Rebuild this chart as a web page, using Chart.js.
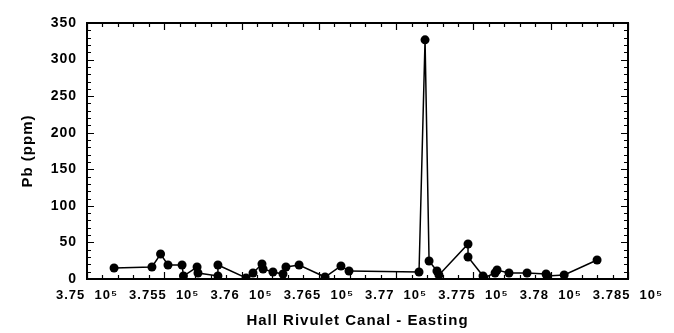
<!DOCTYPE html>
<html>
<head>
<meta charset="utf-8">
<script src="https://cdn.jsdelivr.net/npm/chart.js@4/dist/chart.umd.min.js"></script>
<style>
  html, body { margin: 0; padding: 0; background: #fff; }
  #wrap { width: 674px; height: 333px; }
</style>
</head>
<body>
<div id="wrap"><canvas id="c" width="674" height="333"></canvas></div>
<script>
// Sampling stations along the Hall Rivulet canal, in survey order
const easting = [
  375175, 375420, 375476, 375524, 375615, 375624, 375712, 375718,
  375847, 375847, 376029, 376074, 376132, 376139, 376203, 376268,
  376287, 376372, 376540, 376643, 376695, 377148, 377187, 377213,
  377264, 377277, 377465, 377465, 377562, 377568, 377640, 377653,
  377730, 377847, 377970, 377976, 378087, 378300
];
const leadPpm = [
  15.0, 16.4, 34.2, 19.1, 19.1, 4.1, 16.4, 8.2,
  4.1, 19.1, 1.4, 8.2, 20.5, 13.7, 9.6, 6.8,
  16.4, 19.1, 2.7, 17.8, 10.9, 9.6, 327, 24.6,
  10.9, 5.5, 47.9, 30.1, 4.1, 1.4, 8.2, 12.3,
  8.2, 8.2, 6.8, 4.1, 5.5, 26.0
];
const xTickValues = [375000, 375500, 376000, 376500, 377000, 377500, 378000, 378500];
const yTickValues = [0, 50, 100, 150, 200, 250, 300, 350];

Chart.defaults.font.family = "'Liberation Sans', Arial, Helvetica, sans-serif";
Chart.defaults.color = '#000';

// Slightly open lettering for all axis text
const letterSpacing = {
  id: 'letterSpacing',
  beforeDraw(chart) { chart.ctx.letterSpacing = '1px'; }
};

// Box frame with inward major/minor ticks on all four sides
const frameTicks = {
  id: 'frameTicks',
  beforeDatasetsDraw(chart) {
    const { ctx, chartArea: a, scales: { x, y } } = chart;
    ctx.save();
    ctx.strokeStyle = '#000';
    ctx.lineWidth = 1.2;
    for (let v = x.min; v <= x.max + 1e-6; v += 100) {
      const px = Math.round(x.getPixelForValue(v)) + 0.5;
      const len = (Math.round(v) % 500 === 0) ? 7 : 4;
      ctx.beginPath();
      ctx.moveTo(px, a.bottom); ctx.lineTo(px, a.bottom - len);
      ctx.moveTo(px, a.top); ctx.lineTo(px, a.top + len);
      ctx.stroke();
    }
    for (let v = y.min; v <= y.max + 1e-6; v += 10) {
      const py = Math.round(y.getPixelForValue(v)) + 0.5;
      const len = (Math.round(v) % 50 === 0) ? 7 : 4;
      ctx.beginPath();
      ctx.moveTo(a.left, py); ctx.lineTo(a.left + len, py);
      ctx.moveTo(a.right, py); ctx.lineTo(a.right - len, py);
      ctx.stroke();
    }
    ctx.lineWidth = 2;
    ctx.strokeRect(a.left, a.top, a.right - a.left, a.bottom - a.top);
    ctx.restore();
  }
};

new Chart(document.getElementById('c'), {
  type: 'scatter',
  data: {
    datasets: [{
      data: easting.map((e, i) => ({ x: e, y: leadPpm[i] })),
      showLine: true,
      borderColor: '#000',
      borderWidth: 1.5,
      pointRadius: 4.5,
      pointBackgroundColor: '#000',
      pointBorderColor: '#000',
      pointBorderWidth: 0
    }]
  },
  options: {
    responsive: false,
    animation: false,
    devicePixelRatio: 1,
    layout: { padding: { top: 23, right: 46, left: 0, bottom: 0 } },
    plugins: { legend: { display: false }, tooltip: { enabled: false } },
    scales: {
      x: {
        type: 'linear',
        min: 375000,
        max: 378500,
        afterBuildTicks: s => { s.ticks = xTickValues.map(v => ({ value: v })); },
        afterFit: s => { s.height = 54; },
        grid: { display: false, drawTicks: false },
        border: { display: false },
        ticks: {
          autoSkip: false,
          maxRotation: 0,
          padding: 9,
          font: { size: 13, weight: 'bold' },
          callback: v => (v / 1e5).toString() + '  10\u2075'
        },
        title: {
          display: true,
          text: 'Hall Rivulet Canal - Easting',
          font: { size: 15, weight: 'bold' },
          padding: { top: 0, bottom: 3 }
        }
      },
      y: {
        min: 0,
        max: 350,
        afterBuildTicks: s => { s.ticks = yTickValues.map(v => ({ value: v })); },
        afterFit: s => { s.width = 87; },
        grid: { display: false, drawTicks: false },
        border: { display: false },
        ticks: {
          padding: 10,
          font: { size: 14, weight: 'bold' }
        },
        title: {
          display: true,
          text: 'Pb (ppm)',
          font: { size: 15, weight: 'bold' },
          padding: { top: 18.5, bottom: 0 }
        }
      }
    }
  },
  plugins: [letterSpacing, frameTicks]
});
</script>
</body>
</html>
